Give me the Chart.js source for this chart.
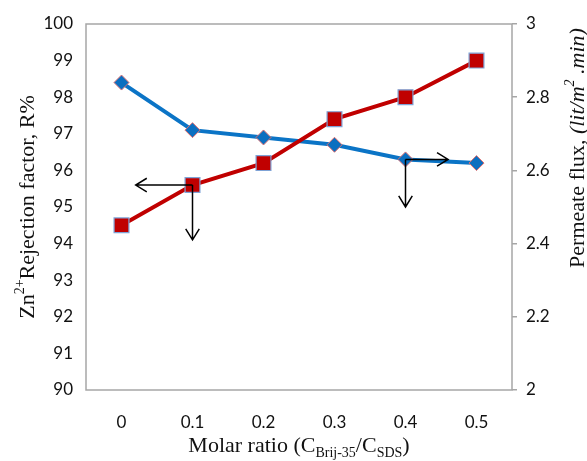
<!DOCTYPE html>
<html>
<head>
<meta charset="utf-8">
<script src="https://cdn.jsdelivr.net/npm/chart.js@4"></script>
<style>
  body { margin: 0; background: #fff; }
</style>
</head>
<body>
<canvas id="fluxChart" width="587" height="461"></canvas>
<script>
const ratios = ['0', '0.1', '0.2', '0.3', '0.4', '0.5'];
const rejection = [98.4, 97.1, 96.9, 96.7, 96.3, 96.2];   // Zn2+ rejection, R%
const flux = [2.45, 2.56, 2.62, 2.74, 2.80, 2.90];        // permeate flux, lit/m2.min

const serif = '"Liberation Serif", "Times New Roman", serif';

// writes a run of text pieces (sub/superscripts, italics) centred on (x, y)
function drawRich(ctx, parts, x, y, angle) {
    ctx.save();
    ctx.translate(x, y);
    ctx.rotate(angle);
    ctx.fillStyle = '#111';
    ctx.textBaseline = 'alphabetic';
    ctx.textAlign = 'left';
    let total = 0;
    parts.forEach(p => {
        ctx.font = (p.italic ? 'italic ' : '') + p.size + 'px ' + serif;
        p.w = ctx.measureText(p.t).width;
        total += p.w;
    });
    let cx = -total / 2;
    parts.forEach(p => {
        ctx.font = (p.italic ? 'italic ' : '') + p.size + 'px ' + serif;
        ctx.fillText(p.t, cx, p.dy || 0);
        cx += p.w;
    });
    ctx.restore();
}

function arrow(ctx, x0, y0, x1, y1) {
    const a = Math.atan2(y1 - y0, x1 - x0);
    const len = 13, spread = 0.55;
    ctx.beginPath();
    ctx.moveTo(x0, y0);
    ctx.lineTo(x1, y1);
    ctx.moveTo(x1 - len * Math.cos(a - spread), y1 - len * Math.sin(a - spread));
    ctx.lineTo(x1, y1);
    ctx.lineTo(x1 - len * Math.cos(a + spread), y1 - len * Math.sin(a + spread));
    ctx.stroke();
}

const framePlugin = {
    id: 'frame',
    beforeDatasetsDraw(chart) {
        const { ctx, chartArea: a } = chart;
        ctx.save();
        ctx.strokeStyle = '#a6a6a6';
        ctx.lineWidth = 1.5;
        ctx.strokeRect(a.left, a.top, a.right - a.left, a.bottom - a.top);
        ctx.restore();
    },
    afterDraw(chart) {
        const { ctx, chartArea: a, scales } = chart;
        const x = scales.x, y = scales.y, y1 = scales.y1;

        // arrows showing which axis each curve belongs to
        ctx.save();
        ctx.strokeStyle = '#000';
        ctx.lineWidth = 1.5;
        const rx = x.getPixelForValue(1), ry = y1.getPixelForValue(flux[1]);
        arrow(ctx, rx, ry, x.getPixelForValue(0.2), ry);
        arrow(ctx, rx, ry, rx, y.getPixelForValue(94.1));
        const bx = x.getPixelForValue(4), by = y.getPixelForValue(rejection[4]);
        arrow(ctx, bx, by, x.getPixelForValue(4.6), by);
        arrow(ctx, bx, by, bx, y.getPixelForValue(95.0));
        ctx.restore();

        drawRich(ctx, [
            { t: 'Zn', size: 22 },
            { t: '2+', size: 14, dy: -10 },
            { t: 'Rejection factor, R%', size: 22 }
        ], 34, (a.top + a.bottom) / 2, -Math.PI / 2);

        drawRich(ctx, [
            { t: 'Permeate flux, ', size: 22 },
            { t: '(lit/m', size: 22, italic: true },
            { t: '2', size: 14, italic: true, dy: -10 },
            { t: ' .min)', size: 22, italic: true }
        ], 584, 148, -Math.PI / 2);

        drawRich(ctx, [
            { t: 'Molar ratio (C', size: 22 },
            { t: 'Brij-35', size: 14, dy: 5 },
            { t: '/C', size: 22 },
            { t: 'SDS', size: 14, dy: 5 },
            { t: ')', size: 22 }
        ], (a.left + a.right) / 2, 452, 0);
    }
};

const tickFont = { family: 'Lato, "Open Sans", sans-serif', size: 17 };

new Chart(document.getElementById('fluxChart'), {
    type: 'line',
    data: {
        labels: ratios,
        datasets: [{
            label: 'Permeate flux',
            data: flux,
            yAxisID: 'y1',
            borderColor: '#c00000',
            borderWidth: 4,
            pointStyle: 'rect',
            pointRadius: 10.5,
            pointBackgroundColor: '#c00000',
            pointBorderColor: '#7fa3d6',
            pointBorderWidth: 1.2,
            tension: 0
        }, {
            label: 'Rejection factor',
            data: rejection,
            yAxisID: 'y',
            borderColor: '#0b74c6',
            borderWidth: 4,
            pointStyle: 'rectRot',
            pointRadius: 7.5,
            pointBackgroundColor: '#0b6fc0',
            pointBorderColor: '#e07070',
            pointBorderWidth: 1,
            tension: 0
        }]
    },
    options: {
        responsive: false,
        animation: false,
        layout: { padding: { top: 24, left: 0, right: 0, bottom: 0 } },
        plugins: {
            legend: { display: false },
            tooltip: { enabled: false }
        },
        scales: {
            x: {
                offset: true,
                grid: { display: false },
                border: { display: false },
                ticks: { color: '#111', font: tickFont, padding: 14 },
                afterFit: s => { s.height = 71; }
            },
            y: {
                position: 'left',
                min: 90,
                max: 100,
                ticks: { stepSize: 1, color: '#111', font: tickFont, padding: 13 },
                grid: { display: false, drawTicks: false },
                border: { display: false },
                afterFit: s => { s.width = 86; }
            },
            y1: {
                position: 'right',
                min: 2,
                max: 3,
                ticks: {
                    stepSize: 0.2,
                    color: '#111',
                    font: tickFont,
                    padding: 9,
                    callback: v => String(+v.toFixed(1))
                },
                grid: { display: true, drawOnChartArea: false, drawTicks: true, tickLength: 5, color: '#a6a6a6', lineWidth: 1.5 },
                border: { display: false },
                afterFit: s => { s.width = 75; }
            }
        }
    },
    plugins: [framePlugin]
});
</script>
</body>
</html>
